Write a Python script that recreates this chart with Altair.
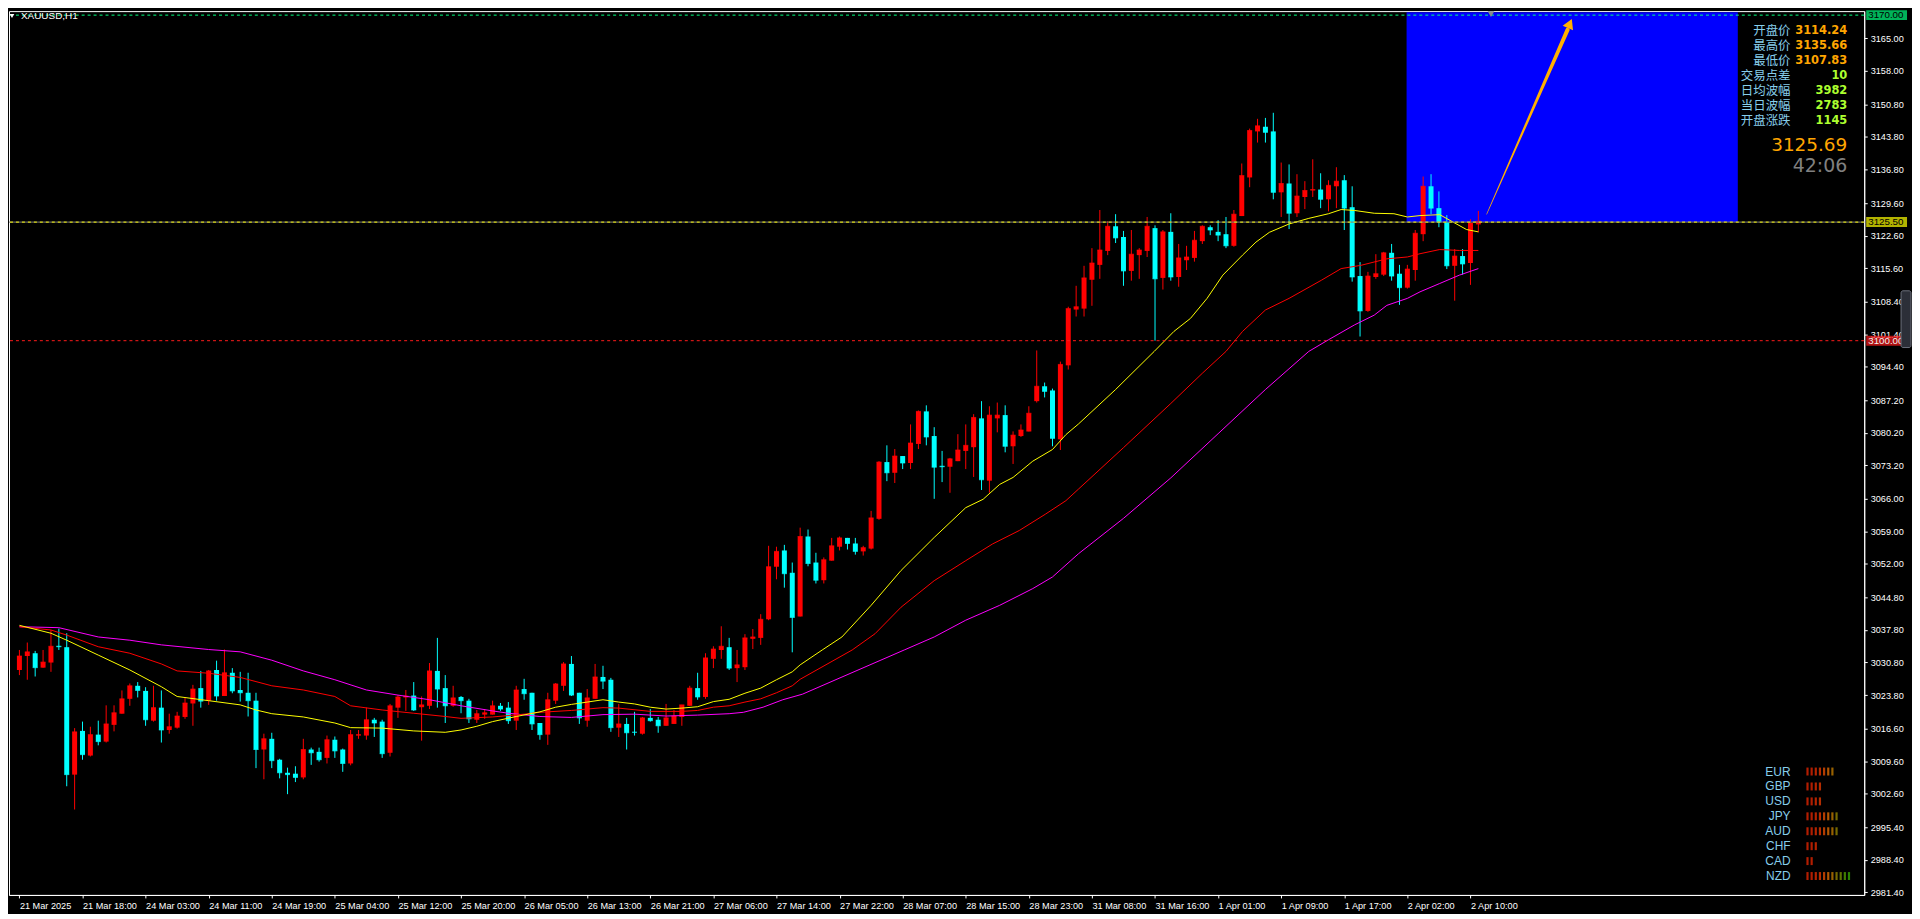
import altair as alt
import pandas as pd

# ---------------- data ----------------
open_ = [
    3029.2, 3032.2, 3032.8, 3029.7, 3030.8, 3034.4, 3034.1, 3006.7, 3016.1, 3010.8,
    3015.3, 3013.8, 3017.4, 3019.8, 3023.0, 3025.8, 3024.7, 3018.3, 3021.1, 3016.3,
    3016.8, 3019.1, 3022.0, 3025.3, 3022.6, 3029.2, 3023.6, 3028.6, 3024.9, 3024.3,
    3022.6, 3012.1, 3014.4, 3009.9, 3007.1, 3006.9, 3006.1, 3012.1, 3011.6, 3010.3,
    3014.2, 3012.1, 3009.1, 3015.1, 3015.1, 3018.5, 3018.1, 3011.4, 3021.1, 3023.3,
    3023.7, 3021.2, 3021.5, 3029.0, 3025.3, 3021.5, 3023.4, 3022.6, 3018.5, 3019.6,
    3019.6, 3021.5, 3021.1, 3018.3, 3025.1, 3024.3, 3017.8, 3015.3, 3022.6, 3025.8,
    3030.5, 3024.3, 3018.3, 3023.0, 3027.7, 3027.1, 3016.8, 3017.6, 3015.9, 3015.5,
    3018.9, 3018.5, 3017.2, 3017.6, 3019.1, 3021.5, 3025.3, 3023.4, 3031.6, 3033.5,
    3034.1, 3029.6, 3029.8, 3035.9, 3036.1, 3040.1, 3051.4, 3054.9, 3050.1, 3040.7,
    3057.9, 3052.3, 3048.5, 3052.7, 3055.7, 3057.6, 3056.4, 3054.7, 3055.3, 3061.7,
    3073.9, 3071.6, 3075.2, 3073.7, 3077.8, 3084.8, 3079.5, 3073.1, 3072.9, 3074.1,
    3076.3, 3077.1, 3083.3, 3069.9, 3083.3, 3084.0, 3077.3, 3079.5, 3080.5, 3087.0,
    3090.2, 3089.3, 3078.8, 3094.7, 3106.7, 3106.9, 3113.1, 3116.3, 3119.3, 3124.6,
    3122.3, 3115.0, 3118.4, 3119.3, 3124.2, 3113.5, 3123.4, 3113.7, 3117.3, 3117.8,
    3121.4, 3124.4, 3123.4, 3122.9, 3120.4, 3126.8, 3135.1, 3145.0, 3146.0, 3145.0,
    3131.9, 3133.8, 3127.4, 3130.9, 3132.3, 3132.5, 3130.4, 3133.2, 3134.5, 3128.7,
    3113.9, 3106.4, 3113.7, 3114.2, 3118.9, 3114.4, 3111.4, 3115.2, 3122.9, 3133.2,
    3128.5, 3125.5, 3116.1, 3118.2, 3116.7, 3125.0]
high_ = [
    3033.5, 3035.1, 3033.3, 3033.5, 3037.8, 3038.1, 3037.1, 3016.7, 3018.1, 3017.0,
    3018.3, 3021.6, 3021.6, 3024.8, 3026.3, 3026.6, 3025.5, 3025.8, 3024.8, 3019.8,
    3020.2, 3023.3, 3026.0, 3029.0, 3029.2, 3031.2, 3033.6, 3029.6, 3028.8, 3028.6,
    3024.3, 3015.5, 3015.7, 3010.1, 3008.2, 3008.5, 3014.4, 3012.5, 3012.5, 3015.1,
    3014.9, 3012.3, 3016.3, 3016.3, 3021.1, 3018.9, 3018.5, 3021.9, 3023.8, 3024.9,
    3026.6, 3023.5, 3030.7, 3036.1, 3028.1, 3025.8, 3023.6, 3023.0, 3020.6, 3020.8,
    3022.6, 3022.1, 3022.3, 3025.8, 3027.3, 3024.3, 3017.8, 3024.3, 3026.4, 3030.9,
    3032.2, 3024.3, 3025.1, 3030.5, 3030.1, 3027.5, 3021.9, 3018.9, 3020.2, 3019.1,
    3020.8, 3019.1, 3021.9, 3020.6, 3021.7, 3025.8, 3028.6, 3032.8, 3034.3, 3038.6,
    3036.1, 3033.5, 3036.9, 3038.0, 3041.2, 3055.9, 3055.7, 3056.1, 3052.3, 3059.8,
    3059.4, 3054.4, 3053.4, 3057.6, 3057.9, 3057.6, 3057.6, 3055.9, 3063.4, 3074.1,
    3077.5, 3076.7, 3075.2, 3082.0, 3085.0, 3086.1, 3081.4, 3076.3, 3074.8, 3079.9,
    3082.0, 3084.2, 3087.0, 3085.9, 3086.7, 3086.1, 3080.5, 3082.0, 3085.9, 3097.9,
    3091.0, 3089.7, 3095.5, 3107.3, 3111.8, 3116.1, 3119.9, 3128.1, 3125.7, 3127.2,
    3123.6, 3123.8, 3119.9, 3126.6, 3124.8, 3123.8, 3127.4, 3120.8, 3120.4, 3123.6,
    3124.8, 3124.8, 3125.9, 3126.6, 3128.1, 3138.1, 3145.6, 3147.7, 3147.9, 3149.0,
    3138.3, 3137.9, 3135.8, 3134.3, 3139.0, 3136.0, 3134.5, 3137.3, 3135.6, 3133.2,
    3116.9, 3114.8, 3118.6, 3119.1, 3120.8, 3116.3, 3116.3, 3123.8, 3135.3, 3135.8,
    3132.1, 3127.0, 3119.7, 3119.7, 3126.1, 3127.9]
low_ = [
    3028.1, 3027.1, 3027.8, 3029.7, 3028.8, 3033.5, 3004.2, 2999.2, 3009.9, 3010.6,
    3013.0, 3013.6, 3016.0, 3019.8, 3021.5, 3023.3, 3017.2, 3018.1, 3013.6, 3015.5,
    3016.6, 3018.7, 3017.2, 3021.1, 3021.7, 3022.6, 3023.6, 3024.2, 3022.4, 3019.2,
    3008.1, 3005.7, 3008.1, 3005.9, 3002.5, 3005.1, 3005.7, 3008.8, 3009.5, 3009.1,
    3010.3, 3007.3, 3008.7, 3014.4, 3014.2, 3014.8, 3010.3, 3010.6, 3018.9, 3020.4,
    3020.4, 3014.0, 3020.8, 3021.1, 3017.8, 3021.3, 3019.9, 3017.8, 3017.8, 3018.7,
    3019.6, 3020.4, 3017.6, 3016.3, 3022.8, 3016.3, 3014.2, 3013.1, 3021.9, 3024.7,
    3023.6, 3017.6, 3017.0, 3023.0, 3025.1, 3015.9, 3014.8, 3012.1, 3015.1, 3015.3,
    3018.1, 3015.7, 3017.2, 3017.6, 3017.2, 3021.5, 3022.8, 3023.0, 3029.6, 3031.6,
    3029.2, 3026.6, 3029.2, 3033.7, 3034.6, 3039.9, 3048.7, 3046.9, 3033.0, 3040.7,
    3051.5, 3047.8, 3047.8, 3052.7, 3054.9, 3055.1, 3054.0, 3053.8, 3055.1, 3061.5,
    3069.8, 3069.4, 3072.4, 3072.4, 3076.7, 3077.5, 3066.0, 3069.6, 3067.3, 3074.1,
    3072.4, 3070.7, 3067.9, 3067.3, 3080.3, 3076.0, 3073.5, 3079.3, 3080.5, 3086.7,
    3087.8, 3077.3, 3076.5, 3093.8, 3105.2, 3105.2, 3107.5, 3113.3, 3118.4, 3121.0,
    3111.8, 3112.9, 3113.3, 3118.0, 3100.0, 3111.0, 3112.9, 3111.6, 3115.2, 3117.0,
    3120.8, 3122.7, 3121.4, 3119.9, 3120.2, 3126.8, 3133.0, 3142.6, 3142.6, 3130.4,
    3126.6, 3124.0, 3126.6, 3128.3, 3130.9, 3128.5, 3127.8, 3128.5, 3123.8, 3112.7,
    3100.9, 3106.2, 3113.3, 3113.9, 3112.9, 3107.7, 3111.2, 3112.9, 3121.4, 3127.2,
    3124.4, 3115.4, 3108.6, 3114.2, 3112.0, 3123.3]
close_ = [
    3032.2, 3033.1, 3029.7, 3030.9, 3034.3, 3034.2, 3006.7, 3015.9, 3011.0, 3015.3,
    3013.8, 3017.6, 3020.0, 3023.0, 3025.8, 3024.8, 3018.5, 3021.1, 3016.3, 3017.0,
    3019.3, 3022.1, 3025.1, 3022.5, 3029.0, 3023.6, 3028.6, 3024.7, 3024.3, 3022.6,
    3012.1, 3014.4, 3009.7, 3007.1, 3006.7, 3006.1, 3012.1, 3011.4, 3009.9, 3014.2,
    3011.8, 3009.1, 3015.3, 3015.3, 3018.5, 3017.8, 3011.2, 3021.5, 3023.4, 3023.6,
    3020.6, 3021.7, 3029.0, 3025.1, 3021.5, 3023.2, 3022.6, 3018.7, 3019.8, 3020.0,
    3021.5, 3020.8, 3018.3, 3024.9, 3024.1, 3017.6, 3015.3, 3022.8, 3026.2, 3030.5,
    3023.8, 3018.9, 3023.2, 3027.7, 3026.8, 3016.8, 3017.6, 3015.7, 3015.8, 3018.9,
    3018.3, 3017.2, 3018.9, 3019.3, 3021.7, 3025.3, 3023.4, 3031.8, 3033.7, 3034.3,
    3029.6, 3030.3, 3036.1, 3036.3, 3040.1, 3051.4, 3054.7, 3049.9, 3040.5, 3057.9,
    3052.1, 3048.5, 3052.9, 3055.9, 3057.6, 3056.4, 3054.7, 3055.5, 3061.9, 3073.9,
    3071.6, 3075.2, 3073.7, 3078.0, 3084.8, 3079.3, 3072.8, 3072.9, 3074.6, 3076.5,
    3077.5, 3083.5, 3070.1, 3084.0, 3084.0, 3077.3, 3079.7, 3080.8, 3084.4, 3090.2,
    3089.1, 3079.0, 3094.9, 3106.9, 3107.3, 3113.5, 3116.7, 3119.5, 3124.6, 3122.1,
    3115.0, 3118.6, 3119.5, 3124.6, 3113.3, 3123.4, 3113.7, 3117.8, 3118.0, 3121.6,
    3124.6, 3123.8, 3122.7, 3120.4, 3127.2, 3135.5, 3145.2, 3146.2, 3144.8, 3131.9,
    3133.8, 3127.4, 3131.1, 3132.3, 3132.5, 3130.4, 3133.4, 3134.3, 3128.5, 3113.7,
    3106.4, 3113.9, 3114.4, 3118.9, 3113.9, 3111.4, 3115.4, 3123.1, 3133.2, 3128.5,
    3125.5, 3116.1, 3118.2, 3116.5, 3125.3, 3125.7]

x_labels = ["21 Mar 2025", "21 Mar 18:00", "24 Mar 03:00", "24 Mar 11:00", "24 Mar 19:00",
            "25 Mar 04:00", "25 Mar 12:00", "25 Mar 20:00", "26 Mar 05:00", "26 Mar 13:00",
            "26 Mar 21:00", "27 Mar 06:00", "27 Mar 14:00", "27 Mar 22:00", "28 Mar 07:00",
            "28 Mar 15:00", "28 Mar 23:00", "31 Mar 08:00", "31 Mar 16:00", "1 Apr 01:00",
            "1 Apr 09:00", "1 Apr 17:00", "2 Apr 02:00", "2 Apr 10:00"]
bars_per_label = 8

y_ticks = [3165.00, 3158.00, 3150.80, 3143.80, 3136.80, 3129.60, 3122.60, 3115.60,
           3108.40, 3101.40, 3094.40, 3087.20, 3080.20, 3073.20, 3066.00, 3059.00,
           3052.00, 3044.80, 3037.80, 3030.80, 3023.80, 3016.60, 3009.60, 3002.60,
           2995.40, 2988.40, 2981.40]

# moving averages (bar index, value)
yellow_k = [0, 4, 6, 10, 14, 18, 20, 24, 28, 30, 32, 36, 40, 42, 46, 50, 54, 56, 58, 60,
            63, 66, 68, 70, 72, 74, 76, 78, 80, 82, 84, 86, 88, 90, 92, 94, 96, 98, 99,
            101.8, 104.3, 108, 111.8, 116, 120, 122.2, 124.3, 126, 128.5, 131, 132.7, 134.3,
            139, 143.9, 146.4, 148.5, 150.6, 152.6, 155.1, 156.8, 158.5, 161, 163.5, 166,
            167.6, 169.3, 171.8, 174.3, 176, 177.6, 180.1, 181.8, 183.5, 185]
yellow_v = [3038.8, 3037.1, 3035.6, 3032.4, 3029.2, 3025.6, 3023.5, 3022.6, 3021.7, 3020.6,
            3019.8, 3019.1, 3017.8, 3016.8, 3016.7, 3016.1, 3015.8, 3016.3, 3017.1, 3018.1,
            3019.2, 3020.2, 3021.2, 3021.8, 3022.3, 3022.8, 3022.3, 3021.9, 3021.2, 3020.8,
            3021.0, 3021.3, 3022.4, 3022.9, 3024.2, 3025.3, 3027.1, 3028.8, 3030.3,
            3033.5, 3036.3, 3043.1, 3050.6, 3057.7, 3064.1, 3065.9, 3069.1, 3070.6, 3074.1,
            3076.6, 3079.8, 3082.1, 3089.5, 3097.7, 3102.0, 3104.8, 3109.1, 3114.1, 3118.4,
            3121.2, 3123.3, 3125.1, 3126.3, 3127.3, 3128.2, 3128.0, 3127.4, 3127.3, 3126.6,
            3126.9, 3127.1, 3125.5, 3123.9, 3123.4]
red_k = [0, 4, 6, 10, 14, 18, 20, 24, 28, 30, 32, 36, 40, 42, 46, 50, 54, 56, 60, 64, 66,
         70, 74, 76, 80, 84, 86, 88, 90, 92, 94, 96, 98, 99, 105.6, 108.5, 111.8, 116, 120,
         123.4, 126.8, 130.1, 132.7, 134.3, 140, 146, 150, 153, 155.1, 158, 161, 165.1,
         167.6, 170.1, 173.4, 176, 177.6, 180.1, 182.6, 185]
red_v = [3038.5, 3037.8, 3036.7, 3034.2, 3032.8, 3030.5, 3029.0, 3028.5, 3027.6, 3026.7,
         3025.8, 3024.9, 3023.5, 3021.5, 3020.6, 3019.9, 3019.2, 3018.8, 3019.1, 3019.7,
         3020.1, 3020.5, 3021.1, 3021.0, 3020.3, 3020.3, 3020.5, 3021.2, 3021.5, 3022.3,
         3023.0, 3024.3, 3025.8, 3027.2, 3033.5, 3037.0, 3042.7, 3048.4, 3052.7, 3056.3,
         3059.2, 3062.7, 3065.6, 3068.1, 3077.0, 3086.5, 3093.0, 3097.7, 3102.0, 3106.6,
         3109.1, 3113.0, 3115.5, 3116.2, 3117.6, 3118.0, 3118.7, 3119.6, 3119.4, 3119.4]
magenta_k = [0, 5, 10, 14, 18, 24, 28, 32, 36, 40, 44, 48, 52, 56, 60, 62, 66, 70, 74, 78,
             82, 86, 90, 91.8, 94.3, 96.8, 99.3, 112.2, 116, 120, 124.3, 128.5, 131, 134.3,
             140, 146, 152, 158, 163.5, 166, 169.3, 171.8, 173.4, 176, 177.6, 180.1, 182.6, 185]
magenta_v = [3038.5, 3038.3, 3036.3, 3035.6, 3034.6, 3033.6, 3033.1, 3031.3, 3029.0, 3027.1,
             3024.9, 3023.8, 3022.8, 3021.5, 3020.4, 3019.9, 3019.2, 3019.0, 3019.6, 3019.7,
             3019.3, 3019.5, 3019.8, 3020.1, 3021.2, 3022.8, 3024.0, 3033.5, 3036.3, 3039.9,
             3043.1, 3046.7, 3049.2, 3054.2, 3061.8, 3070.5, 3080.0, 3089.5, 3097.7, 3100.2,
             3103.4, 3105.5, 3107.6, 3109.1, 3110.5, 3112.3, 3114.1, 3115.5]

levels = [3170.00, 3125.50, 3100.00]
level_colors = ["#00ff7f", "#ffff00", "#ff1a1a"]
level_text_colors = ["#000000", "#000000", "#f0f0f0"]

zone_k = [175.9, 217.9]
zone_p = [3125.5, 3170.6]
arrow_k = [186.06, 196.3]
arrow_p = [3127.2, 3166.8]
arrow_w = [0.6, 4.2]
head_k = [196.6]
head_p = [3168.2]

symbol_title = "XAUUSD,H1"
info_labels = ["开盘价", "最高价", "最低价", "交易点差", "日均波幅", "当日波幅", "开盘涨跌"]
info_values = ["3114.24", "3135.66", "3107.83", "10", "3982", "2783", "1145"]
info_value_colors = ["#ffa500", "#ffa500", "#ffa500", "#adff2f", "#adff2f", "#adff2f", "#adff2f"]
last_price = "3125.69"
countdown = "42:06"

currencies = ["EUR", "GBP", "USD", "JPY", "AUD", "CHF", "CAD", "NZD"]
strength = [7, 4, 4, 8, 8, 3, 2, 11]
strength_colors = ["#ff2a00", "#ff2a00", "#ff3300", "#ff4000", "#ff5500", "#ff7a00",
                   "#d88a00", "#a89600", "#84a200", "#5cb000", "#3cba00"]

# ---------------- layout / style ----------------
W, H = 1864, 888
XDOM = [-0.69, 233.3]
YDOM = [2980.83, 3170.86]
AXFONT = "Liberation Sans"
AXSIZE = 9.2

label_expr = "[" + ",".join("'%s'" % s for s in x_labels) + "][round(datum.value / %d)]" % bars_per_label
x_axis = alt.Axis(values=[bars_per_label * i for i in range(len(x_labels))], labelExpr=label_expr,
                  labelAlign="left", labelBaseline="top", labelPadding=4, labelColor="white",
                  labelFont=AXFONT, labelFontSize=AXSIZE, tickColor="white", tickSize=3,
                  domainColor="white", grid=False, title=None, labelOverlap=False, labelFlush=False)
y_axis = alt.Axis(orient="right", values=y_ticks, format=".2f", labelColor="white",
                  labelFont=AXFONT, labelFontSize=AXSIZE, tickColor="white", tickSize=3,
                  domainColor="white", labelPadding=3, grid=False, title=None,
                  labelOverlap=False, labelFlush=False)
xs = alt.Scale(domain=XDOM, nice=False, zero=False)
ys = alt.Scale(domain=YDOM, nice=False, zero=False)


def X(f):
    return alt.X(f + ":Q", scale=xs, axis=x_axis)


def Y(f):
    return alt.Y(f + ":Q", scale=ys, axis=y_axis)


df = pd.DataFrame({"k": list(range(len(open_))), "open": open_, "high": high_,
                   "low": low_, "close": close_})
df["dir"] = ["up" if c >= o else "down" for o, c in zip(open_, close_)]
candle_color = alt.Color("dir:N", scale=alt.Scale(domain=["up", "down"], range=["#ff0000", "#00ffff"]),
                         legend=None)

base = alt.Chart(df)
zone = alt.Chart(pd.DataFrame({"k0": [zone_k[0]], "k1": [zone_k[1]], "p0": [zone_p[0]], "p1": [zone_p[1]]})
                 ).mark_rect(color="#0000ff").encode(x=X("k0"), x2="k1", y=Y("p0"), y2="p1")
wicks = base.mark_rule(strokeWidth=1).encode(x=X("k"), y=Y("low"), y2="high", color=candle_color)
bodies = base.mark_bar(size=5).encode(x=X("k"), y=Y("open"), y2="close", color=candle_color)
dojis = base.mark_tick(orient="horizontal", size=5, thickness=1).encode(x=X("k"), y=Y("close"),
                                                                       color=candle_color)


def ma(kk, vv, col):
    return alt.Chart(pd.DataFrame({"k": kk, "v": vv})).mark_line(color=col, strokeWidth=1).encode(
        x=X("k"), y=Y("v"))


ma_mag = ma(magenta_k, magenta_v, "#ff00ff")
ma_red = ma(red_k, red_v, "#ff0000")
ma_yel = ma(yellow_k, yellow_v, "#ffff00")

lv = pd.DataFrame({"level": levels, "lc": level_colors, "tc": level_text_colors})
bid_under = alt.Chart(lv.iloc[[1]]).mark_rule(color="#7a7a7a", strokeWidth=1).encode(y=Y("level"))
level_lines = alt.Chart(lv).mark_rule(strokeDash=[3, 3], strokeWidth=1).encode(
    y=Y("level"), color=alt.Color("lc:N", scale=None))
level_boxes = alt.Chart(lv).mark_tick(orient="horizontal", size=41, thickness=10).encode(
    x=alt.value(W + 22.5), y=Y("level"), color=alt.Color("lc:N", scale=None))
level_text = alt.Chart(lv).mark_text(align="left", baseline="middle", font=AXFONT, fontSize=AXSIZE + 0.6).encode(
    x=alt.value(W + 4), y=Y("level"), text=alt.Text("level:Q", format=".2f"),
    color=alt.Color("tc:N", scale=None))

arrow = alt.Chart(pd.DataFrame({"k": arrow_k, "p": arrow_p, "w": arrow_w})).mark_trail(
    color="#ffb000").encode(x=X("k"), y=Y("p"), size=alt.Size("w:Q", scale=None, legend=None))
head = alt.Chart(pd.DataFrame({"k": head_k, "p": head_p})).mark_point(
    shape="triangle-up", filled=True, size=130, angle=24, color="#ffb000", opacity=1).encode(
    x=X("k"), y=Y("p"))


def one_text(t, x, y, **kw):
    return alt.Chart(pd.DataFrame({"t": [t]})).mark_text(**kw).encode(
        text="t:N", x=alt.value(x), y=alt.value(y))


title_tri = alt.Chart(pd.DataFrame({"t": [symbol_title]})).mark_point(
    shape="triangle-down", filled=True, size=22, color="white", opacity=1).encode(
    x=alt.value(3), y=alt.value(5))
title = one_text(symbol_title, 12, 5, align="left", baseline="middle", font="Liberation Sans",
                 fontSize=10, color="white")
shift_tri = alt.Chart(pd.DataFrame({"t": ["shift"]})).mark_point(
    shape="triangle-down", filled=True, size=45, color="#8a8a8a", opacity=1).encode(
    x=alt.value(1489), y=alt.value(3))
price_big = one_text(last_price, 1847, 135, align="right", baseline="middle", font="DejaVu Sans",
                     fontSize=18.5, color="#ffa500")
timer = one_text(countdown, 1847, 156, align="right", baseline="middle", font="DejaVu Sans",
                 fontSize=19, color="#808080")
slider = alt.Chart(pd.DataFrame({"t": ["s"]})).mark_rect(
    fill="#2c2f38", stroke="#6d717c", strokeWidth=1, cornerRadius=2).encode(
    x=alt.value(W + 37), x2=alt.value(W + 47), y=alt.value(281), y2=alt.value(338))

main = alt.layer(zone, wicks, bodies, dojis, ma_mag, ma_red, ma_yel, bid_under, level_lines,
                 level_boxes, level_text, arrow, head, title_tri, title, shift_tri,
                 price_big, timer, slider)

# info panel (own row scale)
info_df = pd.DataFrame({"row": list(range(len(info_labels))), "label": info_labels,
                        "value": info_values, "vc": info_value_colors})
row_scale = alt.Scale(domain=[0, len(info_labels) - 1], range=[20, 110])
info_lab = alt.Chart(info_df).mark_text(align="right", baseline="middle", font="Noto Sans CJK SC",
                                        fontSize=12.5, color="#87ceeb").encode(
    x=alt.value(1790), y=alt.Y("row:Q", scale=row_scale, axis=None), text="label:N")
info_val = alt.Chart(info_df).mark_text(align="right", baseline="middle", font="DejaVu Sans",
                                        fontSize=11.5, fontWeight="bold").encode(
    x=alt.value(1847), y=alt.Y("row:Q", scale=row_scale, axis=None), text="value:N",
    color=alt.Color("vc:N", scale=None))
info = alt.layer(info_lab, info_val)

# currency strength panel (own scales)
cur_df = pd.DataFrame({"row": list(range(len(currencies))), "cur": currencies})
bar_rows, bar_idx = [], []
for r, n in enumerate(strength):
    for i in range(n):
        bar_rows.append(r)
        bar_idx.append(i)
cbar_df = pd.DataFrame({"row": bar_rows, "i": bar_idx})
crow_scale = alt.Scale(domain=[0, len(currencies) - 1], range=[764, 869])
ci_scale = alt.Scale(domain=[0, len(strength_colors) - 1], range=[1807, 1848.7])
cur_lab = alt.Chart(cur_df).mark_text(align="right", baseline="middle", font="Liberation Sans",
                                      fontSize=12, color="#87ceeb").encode(
    x=alt.value(1790), y=alt.Y("row:Q", scale=crow_scale, axis=None), text="cur:N")
cur_bars = alt.Chart(cbar_df).mark_tick(orient="vertical", size=8, thickness=2.2).encode(
    x=alt.X("i:Q", scale=ci_scale, axis=None), y=alt.Y("row:Q", scale=crow_scale, axis=None),
    color=alt.Color("i:O", scale=alt.Scale(domain=list(range(len(strength_colors))),
                                           range=strength_colors), legend=None))
cur = alt.layer(cur_lab, cur_bars)

chart = alt.layer(main, info, cur).resolve_scale(
    x="independent", y="independent", color="independent"
).properties(width=W, height=H, padding=0).configure(background="black").configure_view(
    stroke="white", strokeWidth=1)

chart.save("out.html", embed_options={"renderer": "svg", "actions": False})
